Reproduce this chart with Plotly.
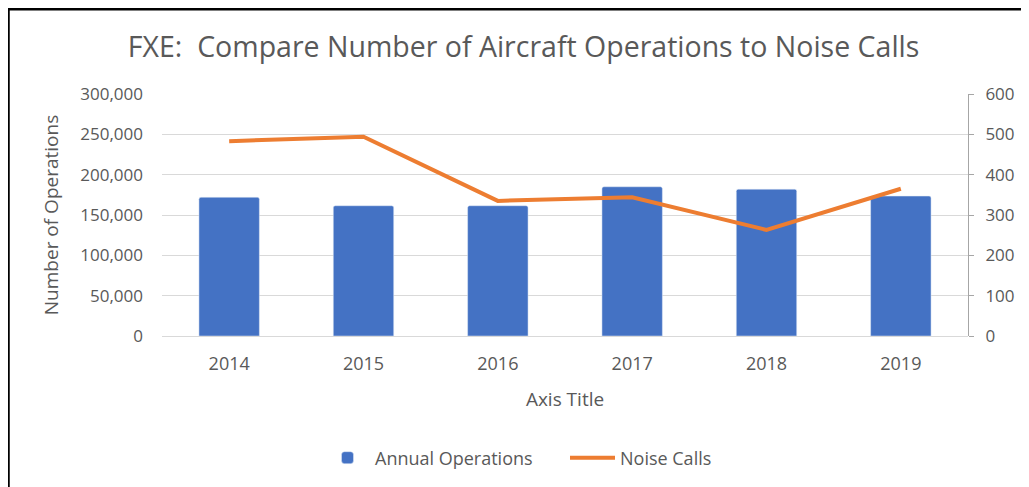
import plotly.graph_objects as go

years = ["2014", "2015", "2016", "2017", "2018", "2019"]
annual_operations = [172000, 161500, 161500, 185000, 182000, 173500]
noise_calls = [483, 494, 335, 344, 263, 365]

FONT = "Open Sans"
GRAY = "#595959"

# page body has an 8px margin, so the figure is 16px smaller
W, H = 1021, 479
L, R, T, B = 154, 61, 86, 150
PW, PH = W - L - R, H - T - B

bars = go.Bar(
    x=years,
    y=annual_operations,
    name="Annual Operations",
    marker=dict(color="#4472C4", cornerradius=2),
    width=0.45,
)
line = go.Scatter(
    x=years,
    y=noise_calls,
    name="Noise Calls",
    mode="lines",
    line=dict(color="#ED7D31", width=4),
    yaxis="y2",
)

fig = go.Figure(data=[bars, line])

fig.update_layout(
    width=W,
    height=H,
    margin=dict(l=L, r=R, t=T, b=B),
    paper_bgcolor="white",
    plot_bgcolor="white",
    font=dict(family=FONT, color=GRAY, size=17),
    title=dict(
        text="FXE:  Compare Number of Aircraft Operations to Noise Calls",
        x=0.505, xanchor="center",
        y=1 - 39 / H, yanchor="middle",
        font=dict(size=28.5, color=GRAY, family=FONT),
    ),
    xaxis=dict(
        title=dict(text="Axis Title", font=dict(size=19), standoff=18),
        showgrid=False,
        showline=False,
        ticks="",
        ticklabelstandoff=15,
        tickfont=dict(size=18),
    ),
    yaxis=dict(
        title=dict(text="Number of Operations", font=dict(size=19), standoff=16),
        range=[0, 300000],
        dtick=50000,
        tickformat=",",
        showgrid=True,
        gridcolor="#D9D9D9",
        gridwidth=1,
        zeroline=True,
        zerolinecolor="#D9D9D9",
        zerolinewidth=1,
        ticklabelstandoff=18,
    ),
    yaxis2=dict(
        overlaying="y",
        side="right",
        range=[0, 600],
        dtick=100,
        showgrid=False,
        zeroline=False,
        showline=True,
        linecolor="#A6A6A6",
        linewidth=1,
        ticks="outside",
        ticklen=5,
        tickcolor="#A6A6A6",
        ticklabelstandoff=8,
    ),
    legend=dict(
        orientation="h",
        x=0.5, xanchor="center",
        y=(T + PH - 450) / PH, yanchor="middle",
        font=dict(size=18),
        entrywidth=185,
        itemwidth=45,
    ),
    shapes=[
        dict(type="line", xref="paper", yref="paper",
             x0=(-1 - L) / PW, x1=(W - L) / PW,
             y0=(T + PH - 1) / PH, y1=(T + PH - 1) / PH,
             line=dict(color="black", width=2.5)),
        dict(type="line", xref="paper", yref="paper",
             x0=(0.5 - L) / PW, x1=(0.5 - L) / PW,
             y0=(T + PH) / PH, y1=(T + PH - H - 5) / PH,
             line=dict(color="black", width=2.5)),
    ],
)

fig.write_html("out.html")
